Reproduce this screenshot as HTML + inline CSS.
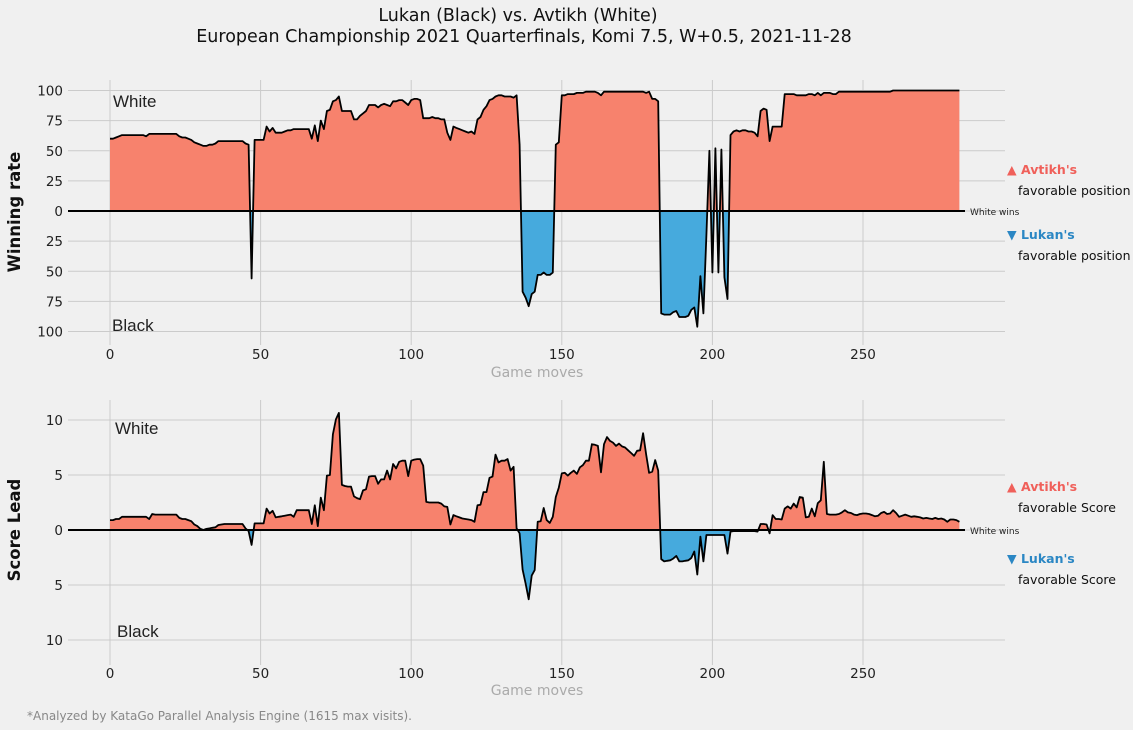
<!DOCTYPE html>
<html><head><meta charset="utf-8">
<style>
html,body{margin:0;padding:0;background:#f0f0f0;}
svg{display:block;font-family:"DejaVu Sans","Liberation Sans",sans-serif;}
</style></head>
<body>
<svg id="chart" width="1133" height="730" viewBox="0 0 1133 730" xmlns="http://www.w3.org/2000/svg">
<rect width="1133" height="730" fill="#f0f0f0"/>
<text x="518" y="21" text-anchor="middle" font-size="17.5" fill="#111">Lukan (Black) vs. Avtikh (White)</text>
<text x="524" y="42" text-anchor="middle" font-size="17.5" fill="#111">European Championship 2021 Quarterfinals, Komi 7.5, W+0.5, 2021-11-28</text>
<g id="top"></g>
<g id="bot"></g>
<text x="27" y="720" font-size="12" fill="#888">*Analyzed by KataGo Parallel Analysis Engine (1615 max visits).</text>
</svg>
<script>
const NS="http://www.w3.org/2000/svg";
const moves=[]; for(let i=0;i<283;i++) moves.push(i);
const xTicks=[0,50,100,150,200,250];
const winTicks=[100,75,50,25,0,-25,-50,-75,-100];
const scoreTicks=[10,5,0,-5,-10];
const winRate=[
60,60,61,62,63,63,63,63,63,63,
63,63,62,64,64,64,64,64,64,64,
64,64,64,62,61,61,60,59,57,56,
55,54,54,55,55,56,58,58,58,58,
58,58,58,58,58,56,55,-56,59,59,
59,59,70,66,69,65,65,65,66,67,
67,68,68,68,68,68,68,60,71,58,
75,68,83,84,91,92,95,83,83,83,
83,76,76,79,81,83,88,88,88,86,
88,89,88,87,91,91,92,92,90,88,
92,93,93,92,77,77,77,78,77,77,
76,76,65,59,70,69,68,67,66,65,
66,64,76,78,84,87,92,93,95,96,
96,95,95,95,94,96,55,-67,-72,-79,
-69,-67,-53,-53,-51,-53,-53,-51,55,57,
96,96,97,97,97,98,98,98,99,99,
99,99,98,96,99,99,99,99,99,99,
99,99,99,99,99,99,99,99,98,99,
93,93,91,-85,-86,-86,-86,-84,-83,-88,
-88,-88,-87,-82,-80,-96,-54,-85,-20,50,
-51,52,-51,51,-55,-73,63,66,67,66,
67,67,66,66,65,62,83,85,84,58,
70,70,70,70,97,97,97,97,96,96,
96,96,97,97,96,98,96,98,98,98,
97,97,99,99,99,99,99,99,99,99,
99,99,99,99,99,99,99,99,99,99,
100,100,100,100,100,100,100,100,100,100,
100,100,100,100,100,100,100,100,100,100,
100,100,100];
const scoreLead=[
0.9,0.9,1.0,1.0,1.2,1.2,1.2,1.2,1.2,1.2,
1.2,1.2,1.2,1.0,1.45,1.4,1.4,1.4,1.4,1.4,
1.4,1.4,1.4,1.1,1.0,1.0,0.9,0.8,0.5,0.35,
0.1,0.0,0.1,0.15,0.2,0.25,0.45,0.5,0.55,0.55,
0.55,0.55,0.55,0.55,0.55,0.15,-0.1,-1.35,0.6,0.6,
0.6,0.6,1.95,1.5,1.75,1.15,1.2,1.25,1.3,1.35,
1.4,1.2,1.8,1.8,1.8,1.8,1.8,0.55,2.25,0.35,
2.95,1.8,4.95,5.0,8.7,10.05,10.65,4.1,4.0,3.95,
3.95,3.05,2.9,2.8,3.6,3.7,4.85,4.9,4.9,4.2,
4.6,4.6,5.4,4.6,6.0,5.6,6.2,6.3,6.3,4.9,
6.3,6.4,6.45,6.45,5.85,2.55,2.5,2.5,2.5,2.5,
2.4,2.15,2.1,0.5,1.35,1.25,1.15,1.05,1.0,0.95,
0.9,0.75,2.25,2.3,3.45,3.45,4.75,4.85,6.85,6.15,
6.3,6.3,6.45,5.4,5.75,0.15,-0.3,-3.6,-4.9,-6.3,
-4.15,-3.65,0.75,0.8,2.0,0.9,0.65,1.2,3.0,3.85,
5.15,5.2,4.95,5.2,5.4,5.1,5.7,5.9,6.3,6.3,
7.8,7.75,7.65,5.25,7.8,8.45,8.1,7.95,7.65,7.85,
7.6,7.5,7.25,7.0,6.75,7.2,7.25,8.8,6.9,5.2,
5.3,6.35,5.4,-2.65,-2.85,-2.8,-2.75,-2.6,-2.35,-2.85,
-2.85,-2.8,-2.75,-2.55,-1.95,-4.05,-0.6,-2.85,-0.45,-0.45,
-0.45,-0.45,-0.45,-0.45,-0.45,-2.15,-0.15,-0.1,-0.1,-0.1,
-0.1,-0.1,-0.1,-0.1,-0.1,-0.15,0.55,0.55,0.5,-0.3,
1.35,1.0,1.0,0.95,1.95,2.15,1.95,2.4,2.05,3.0,
2.95,1.15,1.2,1.95,1.25,2.45,2.7,6.2,1.45,1.4,
1.4,1.4,1.45,1.6,1.8,1.6,1.55,1.4,1.35,1.45,
1.5,1.5,1.45,1.35,1.25,1.3,1.55,1.65,1.45,1.5,
1.8,1.55,1.2,1.3,1.4,1.3,1.2,1.25,1.2,1.15,
1.05,1.1,1.05,1.0,1.1,1.0,1.05,0.95,0.75,0.95,
0.95,0.9,0.75];

function xScale(m){return 110+m*3.012;}
function mk(tag,attrs,parent){const e=document.createElementNS(NS,tag);for(const k in attrs)e.setAttribute(k,attrs[k]);parent.appendChild(e);return e;}

function panel(g,id,vals,ticks,yScale,top,bottom,tickY,yTitle,titleY,xlabY,whiteY,blackY,whiteX,blackX,noun,annY){
  const left=68,right=1005;
  ticks.forEach(t=>{
    const l=mk('line',{x1:left,x2:right,y1:yScale(t),y2:yScale(t),stroke:'#cbcbcb','stroke-width':1},g);
    
    
    const tx=mk('text',{x:63,y:yScale(t)+5,'text-anchor':'end','font-size':13.5,fill:'#222'},g);
    tx.textContent=Math.abs(t);
    
    
  });
  xTicks.forEach(t=>{
    const l=mk('line',{x1:xScale(t),x2:xScale(t),y1:top,y2:bottom,stroke:'#cbcbcb','stroke-width':1},g);
    
    
    const tx=mk('text',{x:xScale(t),y:tickY,'text-anchor':'middle','font-size':13.5,fill:'#222'},g);
    tx.textContent=t;
    
    
  });
  const z=yScale(0);
  let pts=vals.map((v,i)=>xScale(moves[i]).toFixed(1)+','+yScale(v).toFixed(1));
  const area='M'+xScale(moves[0])+','+z+' L'+pts.join(' L')+' L'+xScale(moves[moves.length-1])+','+z+' Z';
  const defs=mk('defs',{},g);
  const cp=mk('clipPath',{id:id+'pos'},defs); mk('rect',{x:0,y:0,width:1133,height:z},cp);
  const cn=mk('clipPath',{id:id+'neg'},defs); mk('rect',{x:0,y:z,width:1133,height:800},cn);
  const ap=mk('path',{d:area,fill:'#f7826d','clip-path':'url(#'+id+'pos)'},g);
  
  
  const an=mk('path',{d:area,fill:'#46aadd','clip-path':'url(#'+id+'neg)'},g);
  
  
  const ln=mk('polyline',{points:pts.join(' '),fill:'none',stroke:'#000','stroke-width':1.8,'stroke-linejoin':'round'},g);
  
  
  const zl=mk('line',{x1:left,x2:965,y1:z,y2:z,stroke:'#000','stroke-width':2},g);
  
  
  const ww=mk('text',{x:970,y:z+4,'font-size':9,fill:'#222'},g);
  ww.textContent='White wins';
  
  
  const yt=mk('text',{x:0,y:0,'font-size':16.5,'font-weight':'bold',fill:'#111','text-anchor':'middle',transform:'translate(20,'+titleY+') rotate(-90)'},g);
  yt.textContent=yTitle;
  
  
  const xt=mk('text',{x:537,y:xlabY,'font-size':14,fill:'#aaa','text-anchor':'middle'},g);
  xt.textContent='Game moves';
  
  
  const wt=mk('text',{x:whiteX,y:whiteY,'font-size':17,fill:'#222','font-family':'Liberation Sans, sans-serif'},g);
  wt.textContent='White';
  
  
  const bt=mk('text',{x:blackX,y:blackY,'font-size':17,fill:'#222','font-family':'Liberation Sans, sans-serif'},g);
  bt.textContent='Black';
  
  
  const a1=mk('text',{x:1007,y:annY[0],'font-size':12.5,'font-weight':'bold',fill:'#f0605a'},g);
  a1.textContent="▲ Avtikh's";
  
  
  const a2=mk('text',{x:1018,y:annY[1],'font-size':12.5,fill:'#111'},g);
  a2.textContent='favorable '+noun;
  
  
  const a3=mk('text',{x:1007,y:annY[2],'font-size':12.5,'font-weight':'bold',fill:'#2b87c4'},g);
  a3.textContent="▼ Lukan's";
  
  
  const a4=mk('text',{x:1018,y:annY[3],'font-size':12.5,fill:'#111'},g);
  a4.textContent='favorable '+noun;
  
  
}
panel(document.getElementById('top'),'t',winRate,winTicks,v=>211-v*1.205,80,345,359,'Winning rate',212,377,107,331,113,112,'position',[174,195,239,260]);
panel(document.getElementById('bot'),'b',scoreLead,scoreTicks,v=>530-v*11,400,665,678,'Score Lead',530,695,434,637,115,117,'Score',[491,512,563,584]);
</script>
</body></html>
